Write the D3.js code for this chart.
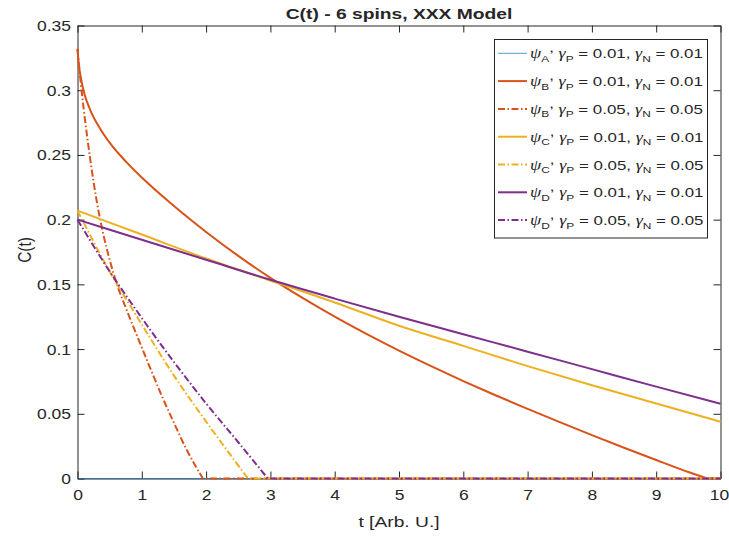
<!DOCTYPE html>
<html>
<head>
<meta charset="utf-8">
<title>C(t) - 6 spins, XXX Model</title>
<script src="https://d3js.org/d3.v7.min.js"></script>
<style>
	body { margin:0; background:#fff; }
	text { font-family:"Liberation Sans", Arial, Helvetica, sans-serif; fill:#262626; }
	.axis path, .axis line { stroke:#262626; stroke-width:1; }
	.greek { font-family:"Liberation Serif", "DejaVu Serif", serif; font-style:italic; }
</style>
</head>
<body>
<script>

// values (t in Arb. U., C(t)); each series runs until it reaches zero
var tA = [0, 10];
var cA = [0, 0];

var tB1 = [0,0.02,0.05,0.1,0.2,0.35,0.5,0.75,1,1.5,2,2.5,3,3.5,4,4.5,5,5.5,6,6.5,7,7.5,8,8.5,9,9.5,9.79];
var cB1 = [0.332,0.320,0.310,0.2985,0.2845,0.2705,0.2595,0.245,0.2325,0.2105,0.1905,0.172,0.155,0.1395,0.125,0.1115,0.0988,0.0868,0.0753,0.0643,0.0538,0.0435,0.0335,0.0238,0.0143,0.005,0];

var tB5 = [0,0.05,0.1,0.2,0.3,0.4,0.5,0.61,0.75,0.92,1.1,1.31,1.5,1.7,1.95];
var cB5 = [0.332,0.306,0.284,0.246,0.214,0.189,0.169,0.1506,0.132,0.111,0.089,0.064,0.043,0.022,0];

var tC1 = [0,1,2,3,4,5,6,7,8,9,10];
var cC1 = [0.207,0.1885,0.170,0.153,0.136,0.118,0.1025,0.0868,0.072,0.058,0.0439];

var tC5 = [0,0.5,1,1.5,2,2.65];
var cC5 = [0.207,0.160,0.119,0.0795,0.044,0];

var tD1 = [0,1,2,3,4,5,6,7,8,9,10];
var cD1 = [0.2,0.1845,0.169,0.1535,0.139,0.125,0.1115,0.098,0.0845,0.071,0.0577];

var tD5 = [0,0.5,1,1.5,2,2.5,2.96];
var cD5 = [0.2,0.16,0.124,0.090,0.058,0.028,0];

// legend labels
var states = ["A", "B", "B", "C", "C", "D", "D"];
var gammas = ["0.01", "0.01", "0.05", "0.01", "0.05", "0.01", "0.05"];

// ticks
var xTicks = [0,1,2,3,4,5,6,7,8,9,10];
var yTicks = [0,0.05,0.1,0.15,0.2,0.25,0.3,0.35];
var yTickLabels = ["0","0.05","0.1","0.15","0.2","0.25","0.3","0.35"];

var W = 729, H = 543;
var SX = 1.25; // text in the picture is drawn a bit wide

var svg = d3.select("body").append("svg")
	.attr("width", W)
	.attr("height", H);

var x = d3.scaleLinear().domain([0, 10]).range([77.5, 720.5]);
var y = d3.scaleLinear().domain([0, 0.35]).range([478.5, 25.5]);

// axes, ticks pointing inward on all four sides
var gx = svg.append("g").attr("class","axis")
	.attr("transform","translate(0," + y(0) + ")")
	.call(d3.axisBottom(x).tickValues(xTicks).tickSize(-7).tickSizeOuter(0).tickFormat(d3.format("d")));
gx.selectAll("text")
	.attr("y", 0).attr("dy", null)
	.attr("transform", function(d){ return "translate(" + (d === 10 ? -1.5 : 0) + ",21.5) scale(" + SX + ",1)"; })
	.style("font-size","14px");

var gy = svg.append("g").attr("class","axis")
	.attr("transform","translate(" + x(0) + ",0)")
	.call(d3.axisLeft(y).tickValues(yTicks).tickSize(-7).tickSizeOuter(0)
		.tickFormat(function(d, i){ return yTickLabels[i]; }));
gy.selectAll("text")
	.attr("x", 0).attr("dy", null)
	.attr("transform", "translate(-6.5,5) scale(" + SX + ",1)")
	.style("font-size","14px");

svg.append("g").attr("class","axis")
	.attr("transform","translate(0," + y(0.35) + ")")
	.call(d3.axisTop(x).tickValues(xTicks).tickSize(-7).tickSizeOuter(0).tickFormat(""));
svg.append("g").attr("class","axis")
	.attr("transform","translate(" + x(10) + ",0)")
	.call(d3.axisRight(y).tickValues(yTicks).tickSize(-7).tickSizeOuter(0).tickFormat(""));

svg.selectAll(".axis text").filter(function(){ return this.textContent === ""; }).remove();

// series
var dashdot = "7,2.5,1.5,2.5";
var series = [
	{t:tA,  c:cA,  color:"#0072BD", w:0.7, dash:null},
	{t:tB1, c:cB1, color:"#D95319", w:2, dash:null},
	{t:tB5, c:cB5, color:"#D95319", w:2, dash:dashdot},
	{t:tC1, c:cC1, color:"#EDB120", w:2, dash:null},
	{t:tC5, c:cC5, color:"#EDB120", w:2, dash:dashdot},
	{t:tD1, c:cD1, color:"#7E2F8E", w:2, dash:null},
	{t:tD5, c:cD5, color:"#7E2F8E", w:2, dash:dashdot}
];

var line = d3.line()
	.x(function(d){ return x(d[0]); })
	.y(function(d){ return y(d[1]); })
	.curve(d3.curveMonotoneX);

// smooth fall, then a straight run along zero to t = 10
function seriesPath(s){
	var p = line(d3.zip(s.t, s.c));
	var last = s.t.length - 1;
	if (s.t[last] < 10) p += "L" + x(10) + "," + y(0);
	return p;
}

svg.append("g").selectAll("path")
	.data(series)
	.enter()
	.append("path")
		.attr("d", seriesPath)
		.attr("fill","none")
		.attr("stroke", function(s){ return s.color; })
		.attr("stroke-width", function(s){ return s.w; })
		.attr("stroke-dasharray", function(s){ return s.dash; });

// title and labels
svg.append("text")
	.attr("transform","translate(" + (x(5)) + ",19) scale(" + SX + ",1)")
	.attr("text-anchor","middle")
	.style("font-size","15.4px").style("font-weight","bold")
	.text("C(t) - 6 spins, XXX Model");

svg.append("text")
	.attr("transform","translate(" + (x(5)) + ",527) scale(" + SX + ",1)")
	.attr("text-anchor","middle")
	.style("font-size","15.4px")
	.text("t [Arb. U.]");

svg.append("text")
	.attr("transform","translate(31,250) scale(" + SX + ",1) rotate(-90)")
	.attr("text-anchor","middle")
	.style("font-size","15.4px")
	.text("C(t)");

// legend
var leg = svg.append("g");
leg.append("rect")
	.attr("x",494.5).attr("y",39.5)
	.attr("width",213).attr("height",198.5)
	.attr("fill","#fff").attr("stroke","#262626").attr("stroke-width",1);

series.forEach(function(s, i){
	var cy = 53.3 + i*27.8;
	leg.append("line")
		.attr("x1",498).attr("x2",527).attr("y1",cy).attr("y2",cy)
		.attr("stroke",s.color).attr("stroke-width",s.w)
		.attr("stroke-dasharray",s.dash);

	var txt = leg.append("text")
		.attr("transform","translate(530," + (cy+5) + ") scale(" + SX + ",1)")
		.style("font-size","13.5px");
	txt.append("tspan").attr("class","greek").style("font-size","14.5px").text("ψ");
	txt.append("tspan").attr("dy",3.5).style("font-size","9.5px").text(states[i]);
	txt.append("tspan").attr("dy",-9.5).text(",");
	txt.append("tspan").attr("dy",6).text(" ");
	txt.append("tspan").attr("class","greek").style("font-size","14.5px").text("γ");
	txt.append("tspan").attr("dy",3.5).style("font-size","9.5px").text("P");
	txt.append("tspan").attr("dy",-3.5).text(" = " + gammas[i] + ", ");
	txt.append("tspan").attr("class","greek").style("font-size","14.5px").text("γ");
	txt.append("tspan").attr("dy",3.5).style("font-size","9.5px").text("N");
	txt.append("tspan").attr("dy",-3.5).text(" = " + gammas[i]);
});

</script>
</body>
</html>
